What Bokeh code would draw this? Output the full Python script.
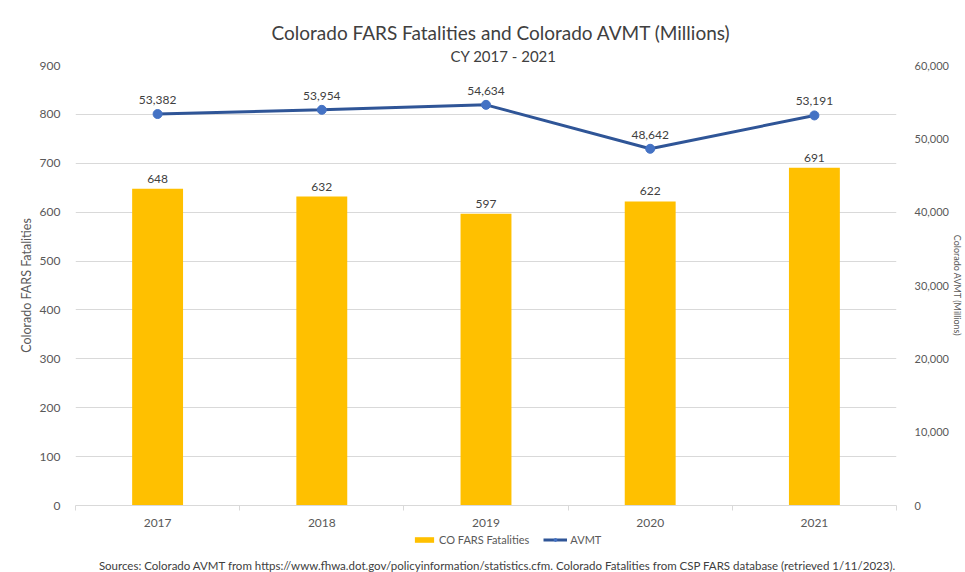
from bokeh.plotting import figure
from bokeh.layouts import column
from bokeh.models import (Range1d, LinearAxis, FixedTicker, NumeralTickFormatter, Legend,
                          LegendItem, Title, ColumnDataSource, LabelSet, Label)
from bokeh.core.properties import value
from bokeh.embed import file_html
from bokeh.resources import INLINE

years = ["2017", "2018", "2019", "2020", "2021"]
fatalities = [648, 632, 597, 622, 691]
avmt = [53382, 53954, 54634, 48642, 53191]
left_ticks = [0, 100, 200, 300, 400, 500, 600, 700, 800, 900]
right_ticks = [0, 10000, 20000, 30000, 40000, 50000, 60000]
series_names = ["CO FARS Fatalities", "AVMT"]
source_note = ("Sources: Colorado  AVMT from https://www.fhwa.dot.gov/policyinformation/statistics.cfm. "
               "Colorado  Fatalities from CSP FARS database (retrieved 1/11/2023).")

FONT = "Lato"
GREY = "#595959"
DARK = "#404040"
BAR_C = "#FFC000"
LINE_C = "#2F5597"
MARK_C = "#4472C4"

xs = list(range(1, len(years) + 1))
src = ColumnDataSource(dict(
    x=xs, year=years, fat=fatalities, avmt=avmt,
    fat_lbl=[f"{v:,}" for v in fatalities],
    avmt_lbl=[f"{v:,}" for v in avmt],
))

BL, BR = 75, 61

p = figure(width=965, height=532, output_backend="svg", toolbar_location=None,
           x_range=Range1d(0.5, len(years) + 0.5), y_range=Range1d(0, 900),
           min_border_left=BL, min_border_right=BR, min_border_top=65, min_border_bottom=27,
           title="Colorado FARS Fatalities and Colorado AVMT (Millions)")
p.extra_y_ranges = {"avmt": Range1d(0, 60000)}
p.outline_line_color = None
p.background_fill_color = "white"
p.border_fill_color = "white"

p.title.align = "left"
p.title.offset = 196
p.title.text_font = FONT
p.title.text_font_size = "19px"
p.title.text_font_style = "normal"
p.title.text_color = DARK
p.title.standoff = 2
p.add_layout(Title(text="CY 2017 - 2021", align="left", offset=375,
                   text_font=FONT, text_font_size="15px", text_font_style="normal",
                   text_color=DARK, standoff=1), "above")

# bars
p.vbar(x="x", top="fat", width=0.31, source=src, color=BAR_C, line_color=None)
p.add_layout(LabelSet(x="x", y="fat", text="fat_lbl", source=src, text_align="center",
                      text_baseline="bottom", y_offset=6, text_font=value(FONT),
                      text_font_size="12px", text_color=DARK))

# line
p.line(x="x", y="avmt", source=src, y_range_name="avmt", line_color=LINE_C, line_width=3)
p.scatter(x="x", y="avmt", source=src, y_range_name="avmt", size=9,
          fill_color=MARK_C, line_color=MARK_C)
p.add_layout(LabelSet(x="x", y="avmt", text="avmt_lbl", source=src, y_range_name="avmt",
                      text_align="center", text_baseline="bottom", y_offset=10,
                      text_font=value(FONT), text_font_size="12px", text_color=DARK))

# axes
p.yaxis.ticker = FixedTicker(ticks=left_ticks)
p.yaxis.axis_label = "Colorado FARS Fatalities"
ax = p.yaxis[0]
ax.axis_line_color = None
ax.major_tick_line_color = None
ax.minor_tick_line_color = None
ax.major_label_standoff = 9
ax.axis_label_standoff = 3
ax.major_label_text_font = FONT
ax.major_label_text_font_size = "12px"
ax.major_label_text_color = GREY
ax.axis_label_text_font = FONT
ax.axis_label_text_font_size = "12.5px"
ax.axis_label_text_font_style = "normal"
ax.axis_label_text_color = GREY

ry = LinearAxis(y_range_name="avmt", ticker=FixedTicker(ticks=right_ticks),
                formatter=NumeralTickFormatter(format="0,0"),
                axis_label="Colorado AVMT (Millions)")
ry.axis_line_color = None
ry.major_tick_line_color = None
ry.minor_tick_line_color = None
ry.major_label_standoff = 12
ry.axis_label_standoff = 0
ry.major_label_text_font = FONT
ry.major_label_text_font_size = "11px"
ry.major_label_text_color = GREY
ry.axis_label_text_font = FONT
ry.axis_label_text_font_size = "9px"
ry.axis_label_text_font_style = "normal"
ry.axis_label_text_color = GREY
p.add_layout(ry, "right")

xa = p.xaxis[0]
xa.ticker = FixedTicker(ticks=xs, minor_ticks=[x - 0.5 for x in xs] + [xs[-1] + 0.5])
xa.major_label_overrides = {x: y for x, y in zip(xs, years)}
xa.axis_line_color = "#D9D9D9"
xa.major_tick_line_color = None
xa.minor_tick_line_color = "#D9D9D9"
xa.minor_tick_out = 5
xa.minor_tick_in = 0
xa.major_label_standoff = 7
xa.major_label_text_font = FONT
xa.major_label_text_font_size = "12px"
xa.major_label_text_color = GREY

p.xgrid.grid_line_color = None
p.ygrid.ticker = FixedTicker(ticks=left_ticks)
p.ygrid.grid_line_color = "#D9D9D9"

# legend + source strip
q = figure(width=965, height=40, output_backend="svg", toolbar_location=None,
           x_range=Range1d(0, 1), y_range=Range1d(0, 1),
           min_border_left=BL, min_border_right=BR, min_border_top=0, min_border_bottom=0)
q.axis.visible = False
q.grid.visible = False
q.outline_line_color = None
q.border_fill_color = "white"
lb = q.vbar(x=[-10], top=[-10], width=0.1, color=BAR_C, line_color=None)
ll = q.line(x=[-10, -9], y=[-10, -10], line_color=LINE_C, line_width=3)
lm = q.scatter(x=[-10], y=[-10], size=8, fill_color=MARK_C, line_color=MARK_C)
legend = Legend(items=[LegendItem(label=series_names[0], renderers=[lb]),
                       LegendItem(label=series_names[1], renderers=[ll, lm])],
                orientation="horizontal", location=(412 - BL, 26),
                border_line_color=None, background_fill_alpha=0,
                label_text_font=FONT, label_text_font_size="11px", label_text_color=GREY,
                glyph_width=24, glyph_height=7, spacing=14, padding=0, margin=0,
                label_standoff=3, label_height=14)
q.add_layout(legend, "center")
q.add_layout(Label(x=0.5, y=0.17, x_offset=504 - (BL + (965 - BL - BR) / 2), text=source_note,
                   text_align="center", text_baseline="middle", text_font=FONT,
                   text_font_size="11.5px", text_color=DARK))

layout = column(p, q, spacing=0)
open("out.html", "w").write(file_html(layout, INLINE))
